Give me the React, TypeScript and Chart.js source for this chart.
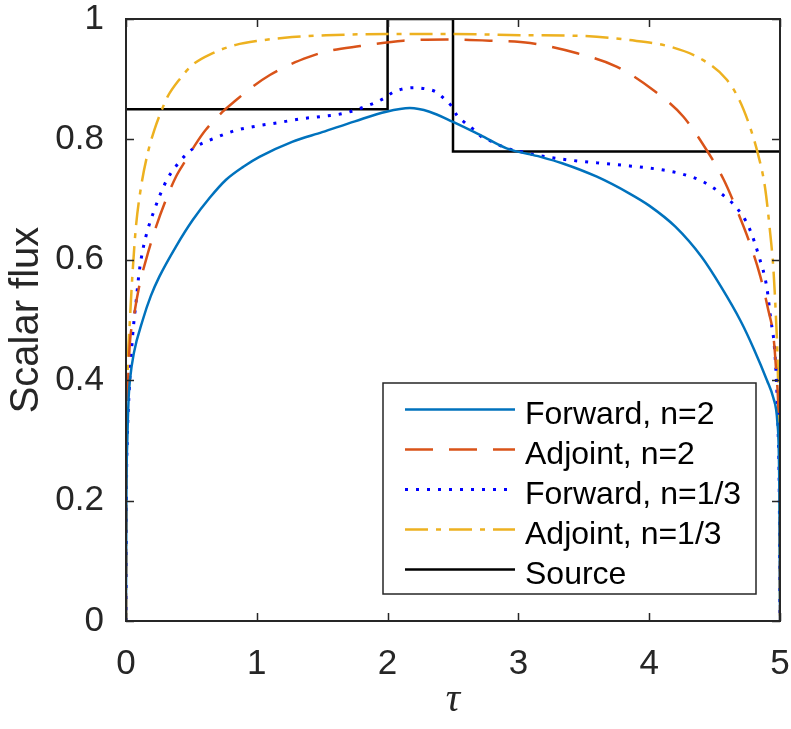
import React, { useEffect, useRef } from 'react';
import { Chart, registerables } from 'chart.js';

Chart.register(...registerables);

// ---- Data ----
const seriesLabels = ['Forward, n=2', 'Adjoint, n=2', 'Forward, n=1/3', 'Adjoint, n=1/3', 'Source'];

const tauForward2 = [0, 0.003, 0.01, 0.02, 0.03, 0.06, 0.128, 0.19, 0.255, 0.382, 0.51, 0.64, 0.765, 0.9, 1.02, 1.27, 1.5, 1.75, 1.99, 2.17, 2.32, 2.5, 2.71, 2.91, 3.17, 3.34, 3.6, 3.85, 4.0, 4.2, 4.4, 4.55, 4.7, 4.8, 4.9, 4.95, 4.98, 4.995, 5];
const forward2 = [0, 0.2, 0.3, 0.37, 0.4, 0.445, 0.5, 0.54, 0.572, 0.622, 0.666, 0.703, 0.733, 0.755, 0.771, 0.796, 0.812, 0.83, 0.846, 0.852, 0.846, 0.829, 0.807, 0.785, 0.771, 0.76, 0.738, 0.71, 0.69, 0.655, 0.605, 0.555, 0.498, 0.452, 0.4, 0.37, 0.33, 0.22, 0];

const tauAdjoint2 = [0, 0.003, 0.01, 0.025, 0.064, 0.1, 0.153, 0.23, 0.306, 0.382, 0.459, 0.535, 0.61, 0.739, 0.84, 0.97, 1.1, 1.25, 1.4, 1.53, 1.79, 2.12, 2.45, 2.78, 3.09, 3.45, 3.75, 4.03, 4.26, 4.44, 4.57, 4.67, 4.77, 4.85, 4.91, 4.95, 4.97, 4.99, 4.997, 5];
const adjoint2 = [0, 0.25, 0.35, 0.445, 0.511, 0.555, 0.6, 0.655, 0.7, 0.738, 0.766, 0.793, 0.816, 0.846, 0.865, 0.888, 0.907, 0.924, 0.937, 0.946, 0.955, 0.964, 0.966, 0.964, 0.96, 0.943, 0.921, 0.882, 0.838, 0.782, 0.733, 0.683, 0.627, 0.572, 0.517, 0.472, 0.417, 0.33, 0.22, 0];

const tauForward13 = [0, 0.003, 0.01, 0.025, 0.05, 0.076, 0.1, 0.128, 0.166, 0.217, 0.255, 0.318, 0.41, 0.47, 0.535, 0.688, 0.84, 0.994, 1.17, 1.33, 1.49, 1.66, 1.81, 1.97, 2.04, 2.12, 2.2, 2.29, 2.37, 2.43, 2.49, 2.53, 2.59, 2.66, 2.72, 2.8, 2.87, 2.95, 3.03, 3.11, 3.34, 3.6, 3.85, 4.11, 4.26, 4.41, 4.55, 4.67, 4.76, 4.84, 4.9, 4.93, 4.955, 4.97, 4.985, 4.995, 5];
const forward13 = [0, 0.2, 0.3, 0.384, 0.472, 0.528, 0.578, 0.616, 0.65, 0.683, 0.705, 0.735, 0.763, 0.777, 0.788, 0.803, 0.815, 0.822, 0.828, 0.834, 0.838, 0.843, 0.853, 0.868, 0.878, 0.884, 0.886, 0.884, 0.879, 0.868, 0.855, 0.84, 0.828, 0.816, 0.804, 0.796, 0.789, 0.783, 0.779, 0.775, 0.767, 0.761, 0.756, 0.749, 0.742, 0.73, 0.71, 0.686, 0.655, 0.605, 0.553, 0.5, 0.461, 0.411, 0.32, 0.2, 0];

const tauAdjoint13 = [0, 0.002, 0.006, 0.013, 0.03, 0.05, 0.076, 0.115, 0.166, 0.217, 0.268, 0.318, 0.41, 0.51, 0.66, 0.84, 1.02, 1.27, 1.53, 2.0, 2.5, 3.09, 3.47, 3.85, 4.16, 4.41, 4.59, 4.69, 4.77, 4.83, 4.885, 4.92, 4.95, 4.97, 4.98, 4.99, 4.997, 5];
const adjoint13 = [0, 0.2, 0.32, 0.417, 0.5, 0.578, 0.655, 0.721, 0.777, 0.816, 0.846, 0.871, 0.9, 0.924, 0.943, 0.957, 0.964, 0.97, 0.973, 0.975, 0.975, 0.973, 0.972, 0.965, 0.954, 0.932, 0.9, 0.865, 0.821, 0.777, 0.721, 0.655, 0.583, 0.5, 0.445, 0.34, 0.2, 0];

const tauSource = [0, 2, 2, 2.5, 2.5, 5];
const source = [0.85, 0.85, 1, 1, 0.78, 0.78];

const xTickValues = [0, 1, 2, 3, 4, 5];
const yTickValues = [0, 0.2, 0.4, 0.6, 0.8, 1];

const toPoints = (xs: number[], ys: number[]) => xs.map((x, i) => ({ x, y: ys[i] }));

const AXIS_COLOR = '#262626';
const SANS = '"Liberation Sans", Arial, Helvetica, sans-serif';

const boxTicksPlugin = {
  id: 'boxTicks',
  afterDatasetsDraw(chart: any) {
    const { ctx, chartArea: a, scales } = chart;
    const xs = scales.x;
    const ys = scales.y;
    const tl = 8;
    ctx.save();
    ctx.strokeStyle = AXIS_COLOR;
    ctx.lineWidth = 1.5;
    ctx.setLineDash([]);
    ctx.beginPath();
    xTickValues.forEach((v) => {
      const px = Math.round(xs.getPixelForValue(v)) + 0.5;
      ctx.moveTo(px, a.bottom);
      ctx.lineTo(px, a.bottom - tl);
      ctx.moveTo(px, a.top);
      ctx.lineTo(px, a.top + tl);
    });
    yTickValues.forEach((v) => {
      const py = Math.round(ys.getPixelForValue(v)) + 0.5;
      ctx.moveTo(a.left, py);
      ctx.lineTo(a.left + tl, py);
      ctx.moveTo(a.right, py);
      ctx.lineTo(a.right - tl, py);
    });
    ctx.stroke();
    ctx.lineWidth = 2;
    ctx.strokeRect(a.left, a.top, a.right - a.left, a.bottom - a.top);
    ctx.restore();
  },
  afterDraw(chart: any) {
    const { ctx } = chart;
    const bx = 383, by = 383, bw = 373, bh = 211;
    ctx.save();
    ctx.fillStyle = '#ffffff';
    ctx.fillRect(bx, by, bw, bh);
    ctx.strokeStyle = AXIS_COLOR;
    ctx.lineWidth = 1.5;
    ctx.setLineDash([]);
    ctx.strokeRect(bx, by, bw, bh);
    chart.data.datasets.forEach((ds: any, i: number) => {
      const ry = 409.5 + i * 40;
      ctx.strokeStyle = ds.borderColor;
      ctx.lineWidth = ds.borderWidth;
      ctx.lineCap = 'butt';
      ctx.setLineDash(ds.borderDash || []);
      ctx.beginPath();
      ctx.moveTo(405, ry);
      ctx.lineTo(515, ry);
      ctx.stroke();
      ctx.setLineDash([]);
      ctx.fillStyle = '#000000';
      ctx.font = `32px ${SANS}`;
      ctx.textAlign = 'left';
      ctx.textBaseline = 'alphabetic';
      ctx.fillText(ds.label, 525, ry + 14);
    });
    ctx.restore();
  },
};

export default function App() {
  const canvasRef = useRef<HTMLCanvasElement | null>(null);

  useEffect(() => {
    if (!canvasRef.current) return;
    const chart = new Chart(canvasRef.current, {
      type: 'line',
      data: {
        datasets: [
          {
            label: seriesLabels[0],
            data: toPoints(tauForward2, forward2),
            borderColor: '#0072BD',
            borderWidth: 2.5,
            cubicInterpolationMode: 'monotone',
            pointRadius: 0,
          },
          {
            label: seriesLabels[1],
            data: toPoints(tauAdjoint2, adjoint2),
            borderColor: '#D95319',
            borderWidth: 2.5,
            borderDash: [28, 16],
            cubicInterpolationMode: 'monotone',
            pointRadius: 0,
          },
          {
            label: seriesLabels[2],
            data: toPoints(tauForward13, forward13),
            borderColor: '#0000FF',
            borderWidth: 3,
            borderDash: [3, 8],
            cubicInterpolationMode: 'monotone',
            pointRadius: 0,
          },
          {
            label: seriesLabels[3],
            data: toPoints(tauAdjoint13, adjoint13),
            borderColor: '#EDB120',
            borderWidth: 2.5,
            borderDash: [23, 8, 5, 8],
            cubicInterpolationMode: 'monotone',
            pointRadius: 0,
          },
          {
            label: seriesLabels[4],
            data: toPoints(tauSource, source),
            borderColor: '#000000',
            borderWidth: 2.5,
            tension: 0,
            pointRadius: 0,
          },
        ] as any,
      },
      options: {
        responsive: false,
        animation: false,
        devicePixelRatio: 1,
        layout: { padding: { top: 19, right: 11, left: 0, bottom: 0 } },
        plugins: {
          legend: { display: false },
          tooltip: { enabled: false },
        },
        scales: {
          x: {
            type: 'linear',
            min: 0,
            max: 5,
            afterBuildTicks: (scale: any) => {
              scale.ticks = xTickValues.map((v) => ({ value: v }));
            },
            ticks: {
              color: AXIS_COLOR,
              font: { family: SANS, size: 35 },
              padding: 14,
              maxRotation: 0,
              callback: (v: any) => String(v),
            },
            grid: { display: false },
            border: { display: false },
            title: {
              display: true,
              text: 'τ',
              color: AXIS_COLOR,
              font: { family: '"Liberation Serif", "DejaVu Serif", serif', size: 40, style: 'italic' },
              padding: { top: 0, bottom: 5 },
            },
            afterFit: (scale: any) => {
              scale.height = 108;
              scale.paddingLeft = 0;
              scale.paddingRight = 0;
            },
          },
          y: {
            type: 'linear',
            min: 0,
            max: 1,
            afterBuildTicks: (scale: any) => {
              scale.ticks = yTickValues.map((v) => ({ value: v }));
            },
            ticks: {
              color: AXIS_COLOR,
              font: { family: SANS, size: 35 },
              padding: 14,
              callback: (v: any) => String(Math.round(v * 10) / 10),
            },
            grid: { display: false },
            border: { display: false },
            title: {
              display: true,
              text: 'Scalar flux',
              color: AXIS_COLOR,
              font: { family: SANS, size: 40 },
              padding: { top: 3, bottom: 0 },
            },
            afterFit: (scale: any) => {
              scale.width = 126;
              scale.paddingTop = 0;
              scale.paddingBottom = 0;
            },
          },
        },
      } as any,
      plugins: [boxTicksPlugin],
    });
    return () => chart.destroy();
  }, []);

  return (
    <div style={{ position: 'absolute', left: 0, top: 0, width: 791, height: 729, background: '#fff' }}>
      <canvas ref={canvasRef} width={791} height={729} style={{ display: 'block' }} />
    </div>
  );
}
